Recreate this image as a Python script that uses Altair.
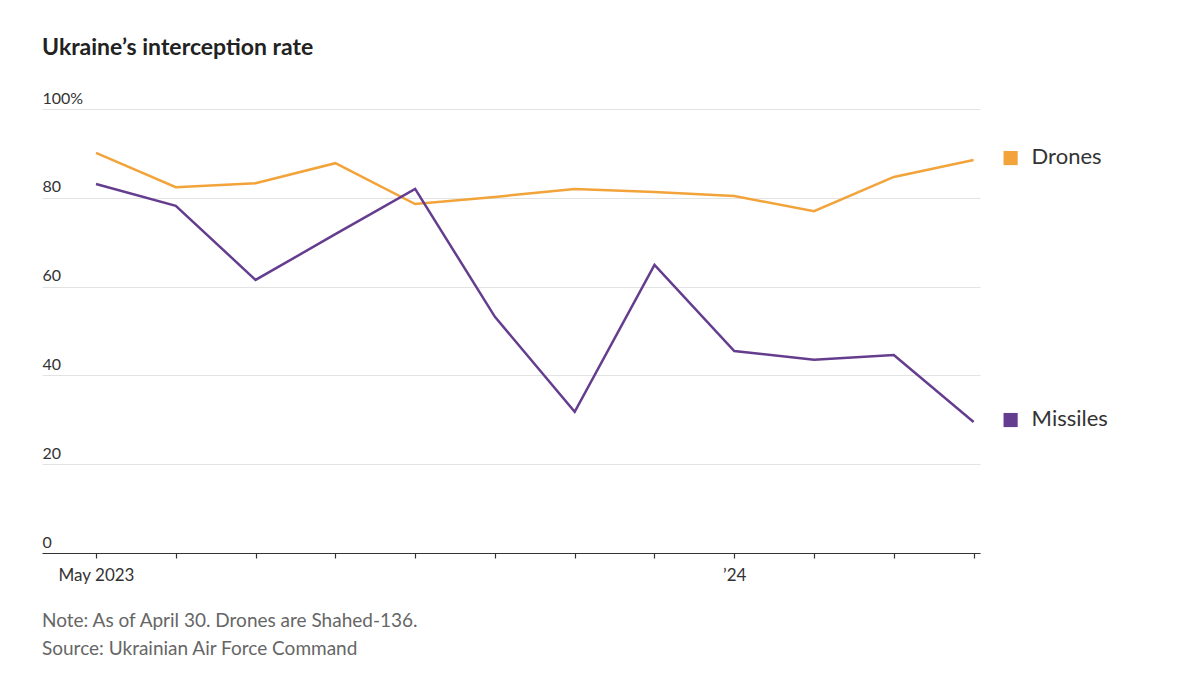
import altair as alt
import pandas as pd

months = ["May 2023", "Jun 2023", "Jul 2023", "Aug 2023", "Sep 2023", "Oct 2023",
          "Nov 2023", "Dec 2023", "Jan 2024", "Feb 2024", "Mar 2024", "Apr 2024"]
drones = [90.1, 82.4, 83.3, 87.8, 78.6, 80.2, 82.0, 81.3, 80.4, 77.0, 84.7, 88.5]
missiles = [83.1, 78.2, 61.5, 71.8, 82.0, 53.2, 31.8, 64.9, 45.5, 43.5, 44.6, 29.5]
series_names = ["Drones", "Missiles"]
series_colors = ["#F2A33A", "#653D8F"]
notes = ["Note: As of April 30. Drones are Shahed-136.", "Source: Ukrainian Air Force Command"]

rows = []
for name, vals in zip(series_names, [drones, missiles]):
    for i, (m, v) in enumerate(zip(months, vals)):
        rows.append({"idx": i, "month": m, "series": name, "value": v})
df = pd.DataFrame(rows)
last = df[df["idx"] == len(months) - 1]

W, H = 938, 444
FONT = "Lato"

xscale = alt.Scale(domain=[-0.677, 11.08], nice=False, zero=False)
yscale = alt.Scale(domain=[0, 100], nice=False)
color = alt.Color("series:N", scale=alt.Scale(domain=series_names, range=series_colors), legend=None)

x_axis = alt.Axis(
    values=list(range(len(months))),
    labelExpr="datum.value == 0 ? 'May 2023' : (datum.value == 8 ? '\u201924' : '')",
    grid=False, domain=True, domainColor="#333333", domainWidth=1.2,
    ticks=True, tickColor="#333333", tickSize=5, tickWidth=1.2,
    labelPadding=9, labelFontSize=17, labelColor="#333333", labelFont=FONT,
    title=None, labelFlush=False,
)
y_axis = alt.Axis(
    values=[0, 20, 40, 60, 80, 100],
    labelExpr="datum.value == 100 ? '100%' : datum.label",
    grid=True, gridColor="#e3e3e3", gridWidth=1,
    domain=False, ticks=False, tickSize=0,
    labelAlign="left", labelBaseline="bottom", labelPadding=0, labelOffset=-3,
    labelFontSize=16, labelColor="#333333", labelFont=FONT, title=None,
)

base = alt.Chart(df)
lines = base.mark_line(strokeWidth=2.5).encode(
    x=alt.X("idx:Q", scale=xscale, axis=x_axis),
    y=alt.Y("value:Q", scale=yscale, axis=y_axis),
    color=color,
    detail="series:N",
)

lab = alt.Chart(last)
squares = lab.mark_square(size=200, opacity=1, xOffset=37, yOffset=-2).encode(
    x=alt.X("idx:Q", scale=xscale), y=alt.Y("value:Q", scale=yscale), color=color
)
texts = lab.mark_text(align="left", baseline="middle", dx=58, dy=-3, fontSize=22,
                      font=FONT, color="#333333").encode(
    x=alt.X("idx:Q", scale=xscale), y=alt.Y("value:Q", scale=yscale), text="series:N"
)

note_layers = []
for k, t in enumerate(notes):
    note_layers.append(
        alt.Chart(pd.DataFrame({"t": [t]})).mark_text(
            align="left", baseline="middle", fontSize=19, font=FONT, color="#666666"
        ).encode(x=alt.value(0), y=alt.value(H + 68 + 28 * k), text="t:N")
    )

chart = alt.layer(lines, squares, texts, *note_layers).properties(
    width=W, height=H,
    title=alt.TitleParams("Ukraine\u2019s interception rate", anchor="start", fontSize=23,
                          fontWeight="bold", font=FONT, color="#222222", offset=30),
    autosize=alt.AutoSizeParams(type="none"),
    padding={"left": 34, "top": 101, "right": 212, "bottom": 114},
).configure_view(stroke=None).configure_title(frame="group")

chart.save("out.html", embed_options={"renderer": "svg", "actions": False})
